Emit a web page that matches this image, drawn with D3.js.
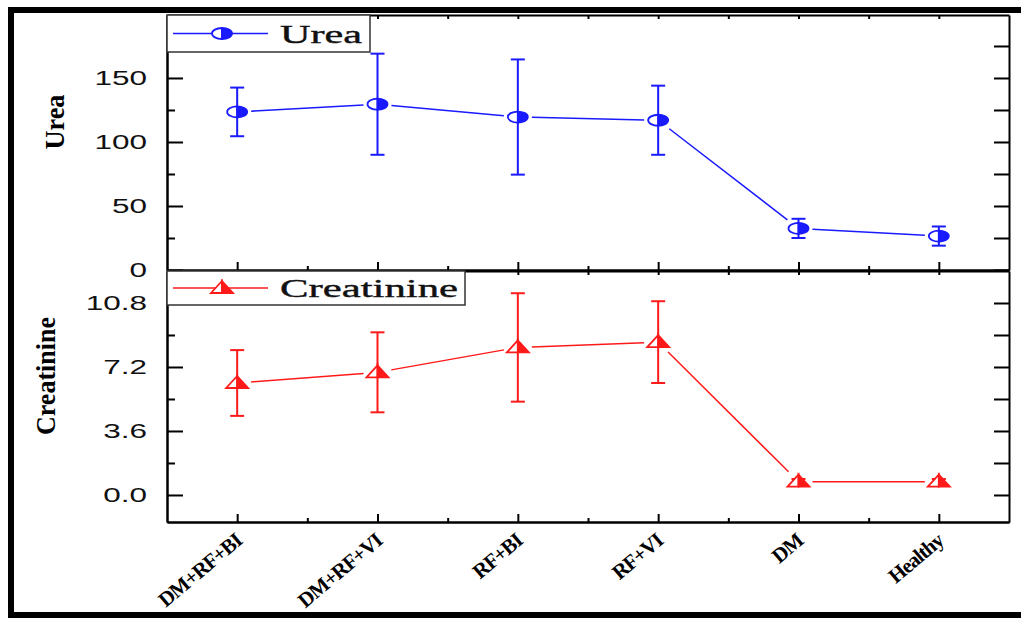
<!DOCTYPE html>
<html>
<head>
<meta charset="utf-8">
<script src="https://cdn.jsdelivr.net/npm/d3@7"></script>
<style>
  body { margin: 0; background: #fff; }
  svg { display: block; }
</style>
</head>
<body>
<svg width="1021" height="618"></svg>
<script>
// DATA
let categories = ["DM+RF+BI", "DM+RF+VI", "RF+BI", "RF+VI", "DM", "Healthy"]
let ureaMean = [123.5, 129.5, 119.5, 117, 32.5, 26.5]
let ureaErr = [19, 39.5, 45, 27, 7.5, 7.5]
let creatMean = [6.3, 6.9, 8.3, 8.6, 0.75, 0.75]
let creatErr = [1.85, 2.25, 3.05, 2.3, 0.15, 0.15]
let ureaTicks = [0, 50, 100, 150]
let ureaMinor = [25, 75, 125, 175]
let creatTicks = [0, 3.6, 7.2, 10.8]
let creatMinor = [1.8, 5.4, 9.0]

let blue = "#1a1aff"
let red = "#ff1a1a"

let svg = d3.select("svg")

// SCALES
let x = d3.scaleLinear().domain([-0.5, 5.5]).range([167, 1009])
let yU = d3.scaleLinear().domain([0, 199.2]).range([270, 15])
let yC = d3.scaleLinear().domain([-1.52, 12.6]).range([522, 271])

let idx = categories.map((d, i) => i)
let half = idx.map(i => i + 0.5).slice(0, 5)

// stretch tick labels horizontally like the source picture
function stretch(g, k) {
  g.selectAll("text").each(function () {
    let t = d3.select(this)
    t.attr("x", +t.attr("x") / k).attr("transform", `scale(${k},1)`)
  })
}

function styleAxis(g) {
  g.select(".domain").attr("stroke", "#000").attr("stroke-width", 2)
  g.selectAll(".tick line").attr("stroke", "#000").attr("stroke-width", 2)
  g.selectAll("text")
    .attr("font-family", "Liberation Sans, Arial, sans-serif")
    .attr("font-size", 21)
    .attr("fill", "#111")
}

function panel(y, major, minor, fmt, top, bottom) {
  // left
  svg.append("g").attr("transform", "translate(167,0)")
    .call(d3.axisLeft(y).tickValues(major).tickFormat(fmt).tickSizeInner(-16).tickSizeOuter(0).tickPadding(20))
    .call(styleAxis).call(g => stretch(g, 1.5))
  svg.append("g").attr("transform", "translate(167,0)")
    .call(d3.axisLeft(y).tickValues(minor).tickFormat("").tickSizeInner(-8).tickSizeOuter(0))
    .call(styleAxis)
  // right
  svg.append("g").attr("transform", "translate(1009,0)")
    .call(d3.axisRight(y).tickValues(major.concat(minor)).tickFormat("").tickSizeInner(-15).tickSizeOuter(0))
    .call(styleAxis)
  // bottom
  svg.append("g").attr("transform", `translate(0,${bottom})`)
    .call(d3.axisBottom(x).tickValues(idx).tickFormat("").tickSizeInner(-8).tickSizeOuter(0))
    .call(styleAxis)
  svg.append("g").attr("transform", `translate(0,${bottom})`)
    .call(d3.axisBottom(x).tickValues(half).tickFormat("").tickSizeInner(-4).tickSizeOuter(0))
    .call(styleAxis)
  // top
  svg.append("g").attr("transform", `translate(0,${top})`)
    .call(d3.axisTop(x).tickValues(idx.concat(half)).tickFormat("").tickSizeInner(-4).tickSizeOuter(0))
    .call(styleAxis)
}

panel(yU, ureaTicks, ureaMinor, d3.format("d"), 15, 270)
panel(yC, creatTicks, creatMinor, d3.format(".1f"), 271, 522)

// LINES with a gap around the symbols
function series(y, mean, err, color, marker) {
  let gap = 14
  let g = svg.append("g")
  for (let i = 0; i < mean.length - 1; i++) {
    let x1 = x(i), y1 = y(mean[i]), x2 = x(i + 1), y2 = y(mean[i + 1])
    let len = Math.hypot(x2 - x1, y2 - y1)
    let ux = (x2 - x1) / len, uy = (y2 - y1) / len
    g.append("line")
      .attr("x1", x1 + ux * gap).attr("y1", y1 + uy * gap)
      .attr("x2", x2 - ux * gap).attr("y2", y2 - uy * gap)
      .attr("stroke", color).attr("stroke-width", 1.5)
  }
  // error bars
  mean.forEach((m, i) => {
    let cx = x(i), top = y(m + err[i]), bot = y(m - err[i])
    g.append("line").attr("x1", cx).attr("x2", cx).attr("y1", top).attr("y2", bot)
      .attr("stroke", color).attr("stroke-width", 2)
    ;[top, bot].forEach(v => {
      g.append("line").attr("x1", cx - 7).attr("x2", cx + 7).attr("y1", v).attr("y2", v)
        .attr("stroke", color).attr("stroke-width", 2)
    })
  })
  mean.forEach((m, i) => marker(g, x(i), y(m), color))
}

function halfCircle(g, cx, cy, color) {
  let rx = 10, ry = 5.5
  g.append("path")
    .attr("d", `M${cx},${cy - ry} A${rx},${ry} 0 0 0 ${cx},${cy + ry} Z`)
    .attr("fill", "#fff").attr("stroke", color).attr("stroke-width", 1.8)
  g.append("path")
    .attr("d", `M${cx},${cy - ry} A${rx},${ry} 0 0 1 ${cx},${cy + ry} Z`)
    .attr("fill", color).attr("stroke", color).attr("stroke-width", 1.8)
}

function halfTriangle(g, cx, cy, color) {
  let w = 11, up = 7, dn = 5
  g.append("path")
    .attr("d", `M${cx},${cy - up} L${cx - w},${cy + dn} L${cx},${cy + dn} Z`)
    .attr("fill", "#fff").attr("stroke", color).attr("stroke-width", 1.8)
  g.append("path")
    .attr("d", `M${cx},${cy - up} L${cx + w},${cy + dn} L${cx},${cy + dn} Z`)
    .attr("fill", color).attr("stroke", color).attr("stroke-width", 1.8)
}

series(yU, ureaMean, ureaErr, blue, halfCircle)
series(yC, creatMean, creatErr, red, halfTriangle)

// LEGENDS
function legend(x0, y0, w, h, label, textLen, color, marker) {
  let g = svg.append("g")
  g.append("rect").attr("x", x0).attr("y", y0).attr("width", w).attr("height", h)
    .attr("fill", "#fff").attr("stroke", "#333").attr("stroke-width", 1.5)
  let my = y0 + h / 2
  g.append("line").attr("x1", x0 + 6).attr("x2", x0 + 101).attr("y1", my).attr("y2", my)
    .attr("stroke", color).attr("stroke-width", 1.5)
  marker(g, x0 + 55, my, color)
  g.append("text").attr("x", x0 + 113).attr("y", my + 9)
    .attr("font-family", "Liberation Serif, Times New Roman, serif")
    .attr("font-size", 26)
    .attr("textLength", textLen).attr("lengthAdjust", "spacingAndGlyphs")
    .attr("fill", "#111")
    .attr("stroke", "#111").attr("stroke-width", 0.4)
    .text(label)
}
legend(167, 15, 203, 37, "Urea", 82, blue, halfCircle)
legend(167, 271, 298, 34, "Creatinine", 178, red, halfTriangle)

// AXIS TITLES
function yTitle(cx, cy, label, len) {
  svg.append("text")
    .attr("transform", `translate(${cx},${cy}) rotate(-90)`)
    .attr("text-anchor", "middle")
    .attr("font-family", "Liberation Serif, Times New Roman, serif")
    .attr("font-weight", "bold")
    .attr("font-size", 28)
    .attr("textLength", len).attr("lengthAdjust", "spacingAndGlyphs")
    .text(label)
}
yTitle(64, 122, "Urea", 55)
yTitle(55, 376, "Creatinine", 118)

// X CATEGORY LABELS
svg.append("g").selectAll("text")
  .data(categories)
  .enter()
  .append("text")
  .attr("transform", (d, i) => `translate(${x(i) + 6},543) rotate(-40)`)
  .attr("text-anchor", "end")
  .attr("font-family", "Liberation Serif, Times New Roman, serif")
  .attr("font-weight", "bold")
  .attr("font-size", 21)
  .attr("letter-spacing", -1)
  .text(d => d)

// OUTER FRAME
svg.append("path")
  .attr("d", "M1030,10 L11,10 L11,615 L1030,615")
  .attr("fill", "none").attr("stroke", "#000").attr("stroke-width", 6)
</script>
</body>
</html>
